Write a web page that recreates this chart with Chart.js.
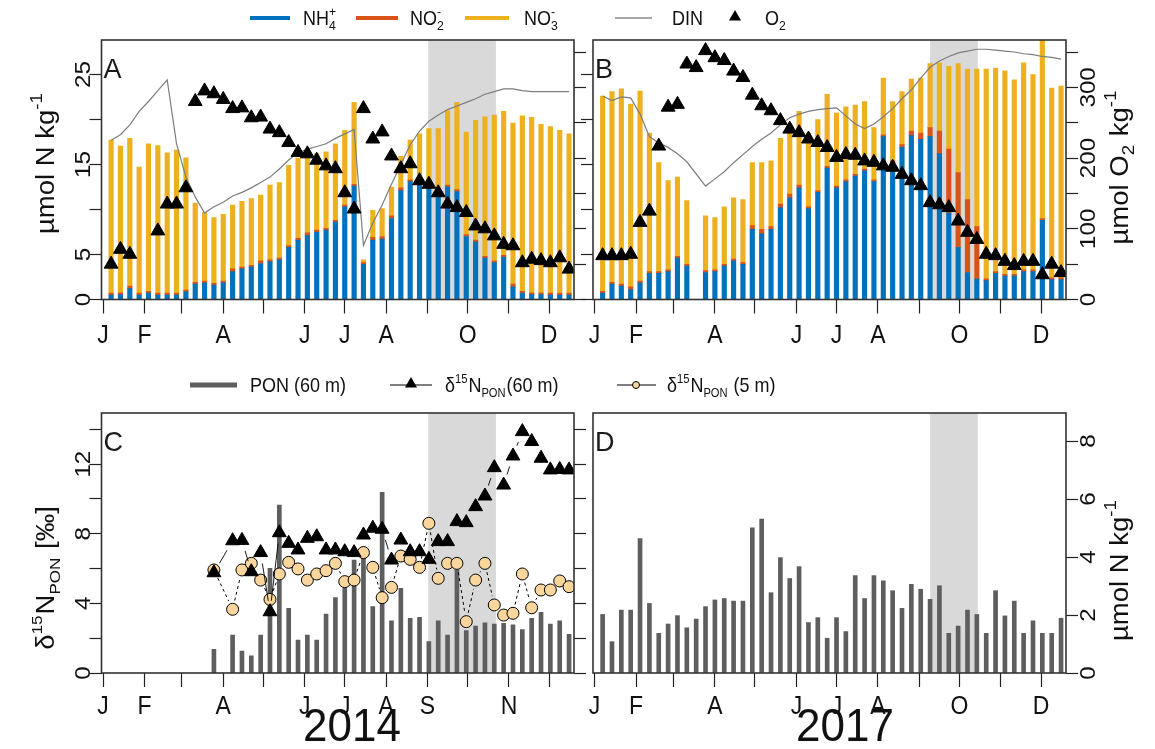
<!DOCTYPE html>
<html><head><meta charset="utf-8">
<script src="https://cdn.jsdelivr.net/npm/chart.js@4.4.0/dist/chart.umd.min.js"></script>
<style>
html,body{margin:0;padding:0;background:#fff;}
#wrap{position:relative;width:1155px;height:749px;overflow:hidden;background:#fff;}
canvas{position:absolute;left:0;top:0;}
</style></head><body>
<div id="wrap">
<canvas id="cA" width="1155" height="749"></canvas>
<canvas id="cB" width="1155" height="749"></canvas>
<canvas id="cC" width="1155" height="749"></canvas>
<canvas id="cD" width="1155" height="749"></canvas>
</div>
<script>
// ---------------- DATA (day of year) ----------------
const monthTicks = [0,31,59,90,120,151,181,212,243,273,304,334];
const monthLabelsTop  = ['J','F','','A','','J','J','A','','O','','D'];
const monthLabels2014 = ['J','F','','A','','J','J','A','S','','N',''];
const monthLabels2017 = ['J','F','','A','','J','J','A','','O','','D'];

const ticksN  = [0,5,10,15,20,25];      const labelsN  = ['0','5','','15','','25'];
const ticksO2 = [0,50,100,150,200,250,300,350]; const labelsO2 = ['0','','100','','200','','300',''];
const ticksD15 = [0,2,4,6,8,10,12,14];  const labelsD15 = ['0','','4','','8','','12',''];
const ticksPON = [0,2,4,6,8];           const labelsPON = ['0','2','4','6','8'];

const shade2014 = [243.5, 294.2];
const shade2017 = [251, 286.7];

// Panel A (2014)
const daysA = [6,13,20,27,34,41,48,55,62,69,76,83,90,97,104,111,118,125,132,139,146,153,160,167,174,181,188,195,202,209,216,223,230,237,244,251,258,265,272,279,286,293,300,307,314,321,328,335,342,349];
const nh4A = [0.5,0.55,1.2,0.5,0.7,0.5,0.5,0.5,0.85,1.7,1.85,1.6,1.85,3.1,3.4,3.6,4.0,4.2,4.4,5.8,6.6,7.1,7.5,7.7,8.6,10.3,12.6,3.9,6.6,6.7,9.0,12.1,13.1,12.7,12.3,11.8,12.5,12.0,7.0,6.4,4.6,4.1,4.7,1.4,0.7,0.55,0.55,0.5,0.5,0.5];
const no2A = [0.2,0.2,0.3,0.2,0.2,0.2,0.2,0.2,0.2,0.2,0.2,0.2,0.2,0.3,0.2,0.2,0.3,0.2,0.2,0.2,0.2,0.3,0.2,0.2,0.2,0.2,0.2,0.2,0.3,0.3,0.3,0.3,0.2,0.2,0.2,0.2,0.2,0.2,0.2,0.2,0.2,0.2,0.2,0.3,0.2,0.2,0.2,0.2,0.2,0.2];
const no3A = [17.0,16.3,16.4,14.0,16.4,16.4,15.6,15.9,14.7,8.8,7.6,7.3,7.4,7.1,7.3,7.4,7.3,8.3,8.4,8.9,8.9,9.2,8.5,8.5,8.5,8.3,9.1,0.3,3.0,3.1,3.2,3.5,4.4,5.5,6.5,7.0,8.3,9.7,11.4,13.3,15.5,16.2,16.0,17.9,19.5,19.5,18.7,18.5,18.1,17.7];
const dinA = [17.7,18.3,19.4,20.9,22.0,23.2,24.4,17.3,13.6,11.4,9.6,10.3,10.8,11.5,11.9,12.4,13.0,13.6,14.5,15.5,16.3,16.7,17.0,17.3,17.9,18.4,18.9,6.0,8.5,10.5,12.8,15.0,17.2,18.7,19.8,20.5,21.1,21.5,21.9,22.3,22.8,23.1,23.4,23.4,23.2,23.1,23.1,23.1,23.1,23.1];
const o2DaysA = [6,13,20,41,48,55,62,69,76,83,90,97,104,111,118,125,132,139,146,153,160,167,174,181,188,195,202,209,216,223,230,237,244,251,258,265,272,279,286,293,300,307,314,321,328,335,342,349];
const o2A = [50,71,64,97,135,135,158,280,295,291,283,270,271,257,258,241,236,222,208,206,197,189,185,151,128,270,227,237,203,185,192,168,163,151,135,130,123,104,100,90,78,76,52,57,55,52,59,43];

// Panel B (2017)
const daysB = [6,13,20,27,34,41,48,55,62,69,83,90,97,104,111,118,125,132,139,146,153,160,167,174,181,188,195,202,209,216,223,230,237,244,251,258,265,272,279,286,293,300,307,314,321,328,335,342,349];
const nh4B = [0.7,1.7,1.5,1.1,1.85,2.9,2.9,3.1,4.6,3.7,3.0,3.1,3.7,4.3,3.9,7.8,7.3,7.8,10.2,11.3,12.4,10.1,11.9,14.6,12.4,13.1,13.7,14.3,13.1,18.1,15.2,16.9,18.2,17.8,18.1,16.2,9.6,5.8,3.0,2.3,2.1,2.9,2.6,2.6,3.1,3.1,8.8,2.2,2.2];
const no2B = [0.2,0.2,0.2,0.3,0.2,0.2,0.2,0.2,0.2,0.2,0.2,0.2,0.2,0.2,0.2,0.4,0.5,0.3,0.4,0.4,0.3,0.2,0.2,0.2,0.2,0.2,0.2,0.2,0.2,0.2,0.2,0.3,0.5,0.7,1.0,2.5,7.1,8.3,8.1,5.8,0.2,0.2,0.2,0.2,0.2,0.2,0.2,0.2,0.2];
const no3B = [21.7,21.2,21.7,20.3,21.1,15.4,12.1,9.9,8.8,7.1,6.1,5.8,6.4,6.8,7.0,7.0,7.4,7.3,7.3,7.8,8.2,8.2,7.9,8.0,8.1,8.1,7.7,7.5,5.8,6.3,6.6,5.9,5.8,6.1,7.1,7.6,9.2,12.1,14.5,17.5,23.3,22.6,22.6,21.6,23.0,21.7,20.5,21.1,21.3];
const dinB = [22.6,22.1,22.5,22.4,20.6,18.1,17.4,16.9,16.2,15.3,12.6,13.4,14.2,15.2,16.1,17.0,17.8,18.5,19.4,20.2,20.6,20.9,21.1,21.2,21.3,20.4,19.5,19.0,19.5,20.3,21.2,22.3,23.3,24.6,25.8,26.5,27.0,27.4,27.6,27.8,27.8,27.7,27.6,27.5,27.3,27.2,27.0,26.9,26.7];
const o2DaysB = [6,13,20,27,34,41,48,55,62,69,76,83,90,97,104,111,118,125,132,139,146,153,160,167,174,181,188,195,202,209,216,223,230,237,244,251,258,265,272,279,286,293,300,307,314,321,328,335,342,349];
const o2B = [62,62,62,64,109,125,217,272,276,333,328,352,342,338,323,314,289,274,267,253,241,236,227,222,215,201,205,204,196,194,189,187,177,168,161,137,134,130,111,95,85,64,62,54,48,54,54,35,50,38];

// Panel C (2014)
const daysC = [83,97,104,111,118,125,132,139,146,153,160,167,174,181,188,195,202,209,216,223,230,237,244,251,258,265,272,279,286,293,300,307,314,321,328,335,342,349];
const ponC = [0.82,1.31,0.76,0.59,1.31,3.61,5.79,2.23,1.14,1.31,1.14,2.03,2.6,2.92,3.9,4.0,2.29,6.23,1.8,2.92,1.89,1.92,1.08,1.8,1.31,3.55,1.46,1.62,1.73,1.69,1.71,1.66,1.5,1.89,2.09,1.69,1.8,1.33];
const d15N60 = [5.76,7.6,7.62,5.82,6.92,3.52,8.06,7.45,7.07,7.74,7.83,7.07,7.07,6.97,6.92,7.93,8.32,8.26,6.49,7.64,6.97,6.97,6.53,7.55,7.55,8.7,8.64,9.56,10.17,11.8,10.8,12.47,13.87,13.3,12.34,11.67,11.7,11.67];
const d15N5 = [5.92,3.66,5.92,6.3,5.34,4.23,5.69,6.36,5.98,5.34,5.69,5.88,6.3,5.25,5.34,6.92,6.07,4.33,4.92,6.72,6.53,6.07,8.6,5.44,6.3,6.3,2.95,5.34,6.3,3.91,3.33,3.43,5.69,3.75,4.77,4.77,5.29,4.96];

// Panel D (2017)
const daysD = [6,13,20,27,34,41,48,55,62,69,76,83,90,97,104,111,118,125,132,139,146,153,160,167,174,181,188,195,202,209,216,223,230,237,244,251,258,265,272,279,286,293,300,307,314,321,328,335,342,349];
const ponD = [2.02,1.08,2.17,2.17,4.64,2.4,1.37,1.69,1.98,1.56,1.86,2.29,2.52,2.57,2.48,2.48,5.01,5.31,2.77,3.98,3.26,3.67,1.74,1.91,1.2,1.91,1.43,3.36,2.57,3.36,3.18,2.84,2.23,3.06,2.89,2.54,3.01,1.37,1.62,2.17,2.02,1.37,2.84,1.97,2.48,1.37,1.8,1.37,1.37,1.89];

// ---------------- STYLE ----------------
const BLUE='#0072BD', ORANGE='#D95319', YELLOW='#EDB120', DINC='#7d7d7d', PONC='#5e5e5e', TAN='#FAD69C', SHADE='#d9d9d9';
const FAM = "'Liberation Sans', Arial, Helvetica, sans-serif";
const K = 1.1;
const XMIN = -1.2, XMAX = 352.7;

function xy(xs, ys){ return xs.map((x,i)=>({x:x, y:ys[i]})); }

function textRich(ctx, parts, x, y, size, o){
  o = o || {};
  const k = (o.k !== undefined) ? o.k : K;
  const ss = size * (o.subScale || 0.68);
  ctx.save();
  ctx.translate(x, y);
  ctx.scale(1, k);
  if (o.rot) ctx.rotate(o.rot);
  ctx.fillStyle = o.color || '#111';
  ctx.textAlign = 'left'; ctx.textBaseline = 'alphabetic';
  const items = parts.map(p => typeof p === 'string' ? {t:p} : Object.assign({}, p));
  let total = 0;
  for (const it of items){
    if (it.t !== undefined){ ctx.font = size+'px '+FAM; it.w = ctx.measureText(it.t).width; }
    else { ctx.font = ss+'px '+FAM; it.w = Math.max(it.sub?ctx.measureText(it.sub).width:0, it.sup?ctx.measureText(it.sup).width:0) + 1; }
    total += it.w;
  }
  let cx = o.align === 'left' ? 0 : (o.align === 'right' ? -total : -total/2);
  const base = size * 0.358;
  for (const it of items){
    if (it.t !== undefined){ ctx.font = size+'px '+FAM; ctx.fillText(it.t, cx, base); }
    else {
      ctx.font = ss+'px '+FAM;
      if (it.sup) ctx.fillText(it.sup, cx, base - size*0.48);
      if (it.sub) ctx.fillText(it.sub, cx, base + size*0.24);
    }
    cx += it.w;
  }
  ctx.restore();
}
function seg(ctx, x0, x1, y, color, w){
  ctx.save(); ctx.strokeStyle=color; ctx.lineWidth=w; ctx.beginPath(); ctx.moveTo(x0,y); ctx.lineTo(x1,y); ctx.stroke(); ctx.restore();
}
function tri(ctx, x, y, r){
  ctx.save(); ctx.fillStyle='#000'; ctx.beginPath();
  ctx.moveTo(x, y - r); ctx.lineTo(x + r*0.866, y + r*0.5); ctx.lineTo(x - r*0.866, y + r*0.5); ctx.closePath(); ctx.fill(); ctx.restore();
}
function circ(ctx, x, y, r){
  ctx.save(); ctx.fillStyle=TAN; ctx.strokeStyle='#000'; ctx.lineWidth=1; ctx.beginPath(); ctx.arc(x,y,r,0,Math.PI*2); ctx.fill(); ctx.stroke(); ctx.restore();
}

const decoPlugin = {
  id: 'deco',
  beforeDatasetsDraw(chart, args, opts){
    if (!opts.shade) return;
    const a = chart.chartArea, xs = chart.scales.x, ctx = chart.ctx;
    const x0 = xs.getPixelForValue(opts.shade[0]), x1 = xs.getPixelForValue(opts.shade[1]);
    ctx.save(); ctx.fillStyle = SHADE; ctx.fillRect(x0, a.top, x1 - x0, a.bottom - a.top); ctx.restore();
  },
  afterDatasetsDraw(chart){
    // R "type = b" style connecting lines: segments with gaps around points
    const ctx = chart.ctx, a = chart.chartArea;
    chart.data.datasets.forEach((ds, i) => {
      if (!ds.typeB) return;
      const pts = chart.getDatasetMeta(i).data;
      ctx.save();
      ctx.beginPath(); ctx.rect(a.left, a.top, a.right - a.left, a.bottom - a.top); ctx.clip();
      ctx.strokeStyle = '#000'; ctx.lineWidth = ds.typeB.width || 1; ctx.setLineDash(ds.typeB.dash || []);
      const g = ds.typeB.gap;
      for (let j = 1; j < pts.length; j++){
        const p = pts[j-1], q = pts[j];
        const dx = q.x - p.x, dy = q.y - p.y, L = Math.hypot(dx, dy);
        if (L > 2*g + 1){
          ctx.beginPath(); ctx.moveTo(p.x + dx/L*g, p.y + dy/L*g); ctx.lineTo(q.x - dx/L*g, q.y - dy/L*g); ctx.stroke();
        }
      }
      ctx.restore();
    });
  },
  afterDraw(chart, args, opts){
    const ctx = chart.ctx, a = chart.chartArea, xs = chart.scales.x;
    ctx.save(); ctx.strokeStyle = '#333'; ctx.lineWidth = 1.6;
    ctx.strokeRect(a.left, a.top, a.right - a.left, a.bottom - a.top); ctx.restore();
    (opts.xLabels || []).forEach((lab, i) => { if (lab) textRich(ctx, [lab], xs.getPixelForValue(monthTicks[i]), a.bottom + opts.xLabelOff, 23); });
    (opts.yLabels || []).forEach(spec => {
      const s = chart.scales[spec.scale];
      spec.values.forEach((v, i) => { if (spec.labels[i]) textRich(ctx, [spec.labels[i]], spec.x, s.getPixelForValue(v), 22, {rot: -Math.PI/2}); });
    });
    textRich(ctx, [opts.letter], a.left + 2, a.top + 28, 27, {align:'left', k:1.05, color:'#1a1a1a'});
    (opts.texts || []).forEach(t => textRich(ctx, t.parts, t.x, t.y, t.size, t));
    if (opts.extra) opts.extra(ctx);
  }
};
Chart.register(decoPlugin);

function tickAxis(pos, min, max, ticks, len, extra){
  return Object.assign({
    type:'linear', position:pos, min:min, max:max, offset:false,
    afterBuildTicks: s => { s.ticks = ticks.map(v => ({value:v})); },
    ticks:{display:false},
    grid:{display:true, drawOnChartArea:false, drawTicks:true, tickLength:len, tickColor:'#222', tickWidth:1.2, offset:false},
    border:{display:false},
    afterFit: s => { if (pos === 'bottom' || pos === 'top') s.height = 0; else s.width = 0; }
  }, extra || {});
}
function hiddenAxis(pos, min, max){
  return {type:'linear', position:pos, min:min, max:max, display:false};
}
function baseOpts(area, scales, deco){
  return {
    responsive:false, animation:false, events:[],
    layout:{padding:{left:area.l, top:area.t, right:1155-area.r, bottom:749-area.b}},
    plugins:{legend:{display:false}, tooltip:{enabled:false}, deco:deco},
    scales:scales
  };
}
const triStyle = {type:'line', showLine:false, pointStyle:'triangle', pointRadius:8, pointBackgroundColor:'#000', pointBorderColor:'#000', pointBorderWidth:1};

function topLegend(ctx){
  const y = 18, f = 18;
  seg(ctx, 250, 290, y, BLUE, 4);
  textRich(ctx, ['NH', {sub:'4', sup:'+'}], 303, y, f, {align:'left'});
  seg(ctx, 356, 398, y, ORANGE, 4);
  textRich(ctx, ['NO', {sub:'2', sup:'-'}], 410, y, f, {align:'left'});
  seg(ctx, 465, 509, y, YELLOW, 4);
  textRich(ctx, ['NO', {sub:'3', sup:'-'}], 524, y, f, {align:'left'});
  seg(ctx, 615, 652, y, '#8a8a8a', 1.5);
  textRich(ctx, ['DIN'], 672, y, f, {align:'left'});
  tri(ctx, 735, y - 1, 7);
  textRich(ctx, ['O', {sub:'2'}], 765, y, f, {align:'left'});
}
function bottomLegend(ctx){
  const y = 385, f = 18;
  seg(ctx, 190, 237, y, PONC, 5);
  textRich(ctx, ['PON (60 m)'], 250, y, f, {align:'left'});
  seg(ctx, 390, 432, y, '#000', 1.2);
  tri(ctx, 411, y - 1, 7);
  textRich(ctx, ['\u03b4', {sup:'15'}, 'N', {sub:'PON'}, '(60 m)'], 445, y, f, {align:'left', subScale:0.62});
  seg(ctx, 617, 656, y, '#000', 1.2);
  circ(ctx, 636, y, 3.5);
  textRich(ctx, ['\u03b4', {sup:'15'}, 'N', {sub:'PON'}, ' (5 m)'], 667, y, f, {align:'left', subScale:0.62});
  textRich(ctx, ['2014'], 352, 725, 44, {k:1.04});
  textRich(ctx, ['2017'], 845, 725, 44, {k:1.04});
}

// ---------------- PANEL A ----------------
const areaA = {l:101.5, t:40, r:574, b:299.5};
new Chart(document.getElementById('cA'), {
  type:'bar',
  data:{datasets:[
    Object.assign({label:'O2', data:xy(o2DaysA, o2A), yAxisID:'y2', order:0}, triStyle),
    {type:'line', label:'DIN', data:xy(daysA, dinA), yAxisID:'y', stack:'din', borderColor:DINC, borderWidth:1.2, pointRadius:0, order:1},
    {label:'NH4', data:xy(daysA, nh4A), yAxisID:'y', backgroundColor:BLUE, barThickness:4.5, stack:'n', order:2},
    {label:'NO2', data:xy(daysA, no2A), yAxisID:'y', backgroundColor:ORANGE, barThickness:4.5, stack:'n', order:2},
    {label:'NO3', data:xy(daysA, no3A), yAxisID:'y', backgroundColor:YELLOW, barThickness:4.5, stack:'n', order:2}
  ]},
  options: baseOpts(areaA, {
    x: tickAxis('bottom', XMIN, XMAX, monthTicks, 14, {stacked:true}),
    y: tickAxis('left', 0, 28.83, ticksN, 12, {stacked:true}),
    y2: tickAxis('right', 0, 367, ticksO2, 12)
  }, {
    shade: shade2014, letter:'A', xLabels: monthLabelsTop, xLabelOff: 34,
    yLabels:[{scale:'y', values:ticksN, labels:labelsN, x:82}],
    texts:[{parts:['\u00b5mol N kg', {sup:'-1'}], x:45, y:163, size:25, rot:-Math.PI/2}],
    extra: topLegend
  })
});

// ---------------- PANEL B ----------------
const areaB = {l:593, t:40, r:1066, b:299.5};
new Chart(document.getElementById('cB'), {
  type:'bar',
  data:{datasets:[
    Object.assign({label:'O2', data:xy(o2DaysB, o2B), yAxisID:'y2', order:0}, triStyle),
    {type:'line', label:'DIN', data:xy(daysB, dinB), yAxisID:'y', stack:'din', borderColor:DINC, borderWidth:1.2, pointRadius:0, order:1},
    {label:'NH4', data:xy(daysB, nh4B), yAxisID:'y', backgroundColor:BLUE, barThickness:4.5, stack:'n', order:2},
    {label:'NO2', data:xy(daysB, no2B), yAxisID:'y', backgroundColor:ORANGE, barThickness:4.5, stack:'n', order:2},
    {label:'NO3', data:xy(daysB, no3B), yAxisID:'y', backgroundColor:YELLOW, barThickness:4.5, stack:'n', order:2}
  ]},
  options: baseOpts(areaB, {
    x: tickAxis('bottom', XMIN, XMAX, monthTicks, 14, {stacked:true}),
    y: tickAxis('left', 0, 28.83, ticksN, 12, {stacked:true}),
    y2: tickAxis('right', 0, 367, ticksO2, 12)
  }, {
    shade: shade2017, letter:'B', xLabels: monthLabelsTop, xLabelOff: 34,
    yLabels:[{scale:'y2', values:ticksO2, labels:labelsO2, x:1087}],
    texts:[{parts:['\u00b5mol O', {sub:'2'}, ' kg', {sup:'-1'}], x:1119, y:167, size:25, rot:-Math.PI/2}]
  })
});

// ---------------- PANEL C ----------------
const areaC = {l:101.5, t:413, r:574, b:673};
new Chart(document.getElementById('cC'), {
  type:'bar',
  data:{datasets:[
    Object.assign({label:'d15N 60 m', data:xy(daysC, d15N60), yAxisID:'y', order:0, typeB:{gap:11, width:0.9}}, triStyle),
    {type:'line', label:'d15N 5 m', data:xy(daysC, d15N5), yAxisID:'y', showLine:false, typeB:{gap:9, width:1, dash:[3,3]},
      pointRadius:6, pointBackgroundColor:TAN, pointBorderColor:'#000', pointBorderWidth:1, order:1},
    {label:'PON', data:xy(daysC, ponC), yAxisID:'pon', backgroundColor:PONC, barThickness:4, order:2}
  ]},
  options: baseOpts(areaC, {
    x: tickAxis('bottom', XMIN, XMAX, monthTicks, 14),
    y: tickAxis('left', 0, 14.94, ticksD15, 12),
    yR: tickAxis('right', 0, 14.94, ticksD15, 12),
    pon: hiddenAxis('right', 0, 8.97)
  }, {
    shade: shade2014, letter:'C', xLabels: monthLabels2014, xLabelOff: 32,
    yLabels:[{scale:'y', values:ticksD15, labels:labelsD15, x:82}],
    texts:[{parts:['\u03b4', {sup:'15'}, 'N', {sub:'PON'}, ' [\u2030]'], x:45, y:578, size:25, rot:-Math.PI/2, subScale:0.62}],
    extra: bottomLegend
  })
});

// ---------------- PANEL D ----------------
const areaD = {l:593, t:413, r:1066, b:673};
new Chart(document.getElementById('cD'), {
  type:'bar',
  data:{datasets:[
    {label:'PON', data:xy(daysD, ponD), yAxisID:'pon', backgroundColor:PONC, barThickness:4, order:2}
  ]},
  options: baseOpts(areaD, {
    x: tickAxis('bottom', XMIN, XMAX, monthTicks, 14),
    pon: tickAxis('right', 0, 8.97, ticksPON, 12)
  }, {
    shade: shade2017, letter:'D', xLabels: monthLabels2017, xLabelOff: 32,
    yLabels:[{scale:'pon', values:ticksPON, labels:labelsPON, x:1087}],
    texts:[{parts:['\u00b5mol N kg', {sup:'-1'}], x:1119, y:570, size:25, rot:-Math.PI/2}]
  })
});
</script>
</body></html>
